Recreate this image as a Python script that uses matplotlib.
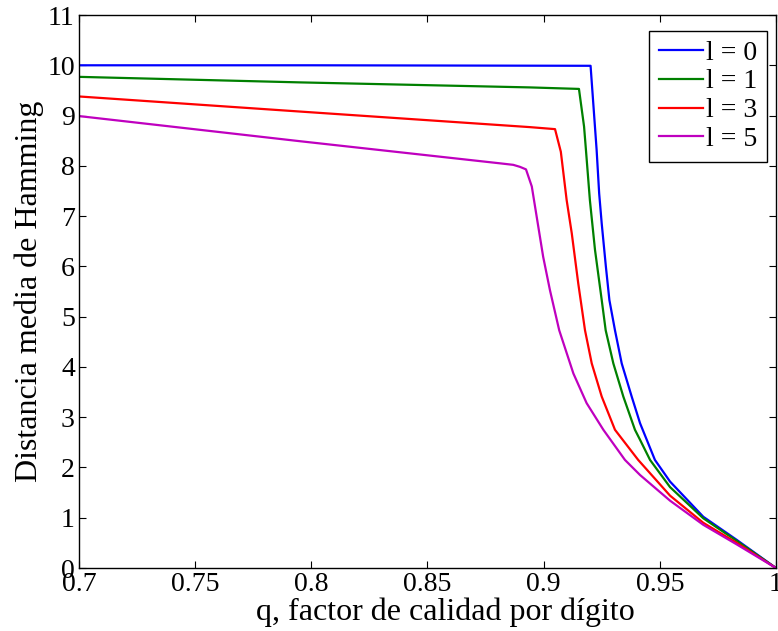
import numpy as np
import matplotlib
matplotlib.use("Agg")
import matplotlib.pyplot as plt

plt.rcParams['font.family'] = ['Liberation Serif', 'DejaVu Serif']

# puntos
q0 = [0.70, 0.80, 0.9202, 0.9228, 0.9239, 0.9250, 0.9268, 0.9283, 0.9307, 0.9336, 0.9379,
      0.9415, 0.9429, 0.9479, 0.9544, 0.9687, 0.9831, 1.0]
d0 = [10.0, 10.0, 9.99, 8.32, 7.45, 6.85, 5.99, 5.33, 4.73, 4.07, 3.41,
      2.88, 2.72, 2.15, 1.72, 1.02, 0.56, 0.0]

q1 = [0.70, 0.7951, 0.8941, 0.9152, 0.9174, 0.9182, 0.9199, 0.9221, 0.9250, 0.9267, 0.9300,
      0.9343, 0.9393, 0.9415, 0.9458, 0.9544, 0.9687, 0.9831, 1.0]
d1 = [9.77, 9.66, 9.56, 9.53, 8.78, 8.32, 7.32, 6.33, 5.33, 4.73, 4.07,
      3.41, 2.75, 2.55, 2.15, 1.61, 0.99, 0.54, 0.0]

q3 = [0.70, 0.7951, 0.8941, 0.9049, 0.9074, 0.9099, 0.9121, 0.9149, 0.9178, 0.9207, 0.9250,
      0.9307, 0.9407, 0.9544, 0.9687, 0.9831, 1.0]
d3 = [9.38, 9.08, 8.77, 8.73, 8.28, 7.32, 6.66, 5.66, 4.73, 4.07, 3.41,
      2.75, 2.15, 1.44, 0.90, 0.50, 0.0]

q5 = [0.70, 0.7951, 0.8812, 0.8869, 0.8898, 0.8924, 0.8949, 0.8970, 0.8998, 0.9027, 0.9067,
      0.9128, 0.9185, 0.9257, 0.9350, 0.9415, 0.9544, 0.9687, 0.9831, 1.0]
d5 = [8.99, 8.49, 8.05, 8.02, 7.98, 7.93, 7.59, 6.99, 6.19, 5.53, 4.73,
      3.87, 3.28, 2.75, 2.15, 1.85, 1.34, 0.86, 0.47, 0.0]

etiquetas = ['l = 0', 'l = 1', 'l = 3', 'l = 5']
colores = ['#0000ff', '#008000', '#ff0000', '#bf00bf']

xticks = [0.7, 0.75, 0.8, 0.85, 0.9, 0.95, 1.0]
xticklabels = ['0.7', '0.75', '0.8', '0.85', '0.9', '0.95', '1']
yticks = list(range(0, 12))

fig = plt.figure(figsize=(7.78, 6.31), dpi=100)
ax = fig.add_axes([0.1015, 0.0998, 0.8959, 0.8764])

for q, d, lab, c in zip([q0, q1, q3, q5], [d0, d1, d3, d5], etiquetas, colores):
    ax.plot(q, d, color=c, lw=1.6, label=lab)

ax.set_xlim(0.7, 1.0)
ax.set_ylim(0, 11)
ax.set_xticks(xticks)
ax.set_xticklabels(xticklabels)
ax.set_yticks(yticks)
ax.tick_params(direction='in', top=True, right=True, labelsize=20, length=5, width=0.8, pad=3)
for s in ax.spines.values():
    s.set_linewidth(1.0)

ax.set_xlabel('q, factor de calidad por dígito', fontsize=23, labelpad=0)
ax.xaxis.label.set_x(0.525)
ax.set_ylabel('Distancia media de Hamming', fontsize=23, labelpad=2)

leg = ax.legend(loc='upper right', bbox_to_anchor=(0.987, 0.972), fontsize=20,
                fancybox=False, framealpha=1, edgecolor='black', handlelength=1.6,
                handletextpad=0.1, borderaxespad=0.0, labelspacing=0.12, borderpad=0.35)
leg.get_frame().set_linewidth(1.0)

fig.savefig('out.png', dpi=100)
